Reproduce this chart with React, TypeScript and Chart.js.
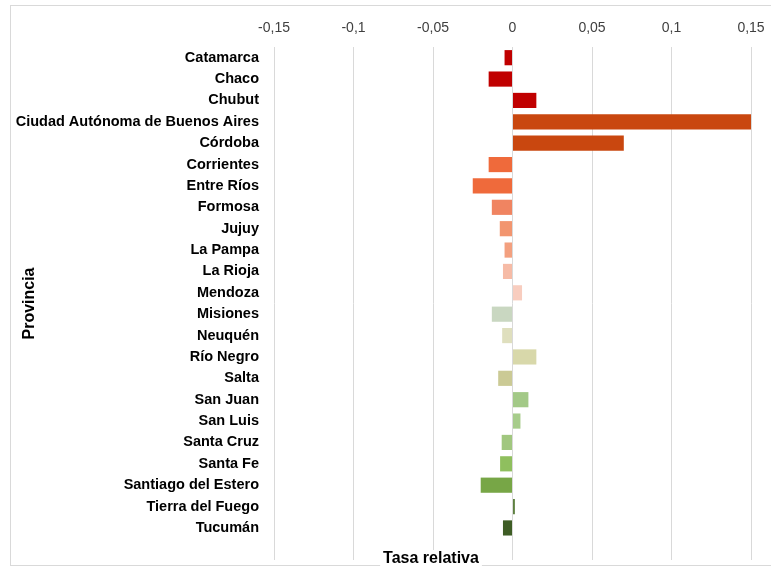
import React, { useEffect, useRef } from "react";
import { Chart, registerables } from "chart.js";

Chart.register(...registerables);

const provincias: string[] = [
  "Catamarca",
  "Chaco",
  "Chubut",
  "Ciudad Autónoma de Buenos Aires",
  "Córdoba",
  "Corrientes",
  "Entre Ríos",
  "Formosa",
  "Jujuy",
  "La Pampa",
  "La Rioja",
  "Mendoza",
  "Misiones",
  "Neuquén",
  "Río Negro",
  "Salta",
  "San Juan",
  "San Luis",
  "Santa Cruz",
  "Santa Fe",
  "Santiago del Estero",
  "Tierra del Fuego",
  "Tucumán",
  "",
];

const tasaRelativa: (number | null)[] = [
  -0.005, -0.015, 0.015, 0.15, 0.07, -0.015, -0.025, -0.013, -0.008, -0.005,
  -0.006, 0.006, -0.013, -0.0065, 0.015, -0.009, 0.01, 0.005, -0.0068,
  -0.0078, -0.02, 0.0015, -0.006, null,
];

const barColors: string[] = [
  "#C00000",
  "#C00000",
  "#C00000",
  "#C9470F",
  "#C9470F",
  "#EF6A3B",
  "#EF6A3B",
  "#F08461",
  "#F2956F",
  "#F3A07F",
  "#F6BBA6",
  "#F8CDBF",
  "#C9D7C1",
  "#DFDFBE",
  "#D8D8AA",
  "#CBCA95",
  "#A3C987",
  "#A7CC8B",
  "#A1C77F",
  "#8FBF5E",
  "#77A646",
  "#5E8040",
  "#3E5D25",
  "#FFFFFF",
];

const xTicks: number[] = [-0.15, -0.1, -0.05, 0, 0.05, 0.1, 0.15];

const FONT = "'Liberation Sans', Arial, sans-serif";

const framePlugin = {
  id: "frame",
  beforeDraw(chart: any) {
    const ctx = chart.ctx;
    ctx.save();
    ctx.fillStyle = "#FFFFFF";
    ctx.fillRect(0, 0, chart.width, chart.height);
    ctx.strokeStyle = "#D9D9D9";
    ctx.lineWidth = 1;
    ctx.strokeRect(10.5, 5.5, 820, 560);
    ctx.restore();
  },
  afterDraw(chart: any) {
    const ctx = chart.ctx;
    ctx.save();
    ctx.font = `bold 16px ${FONT}`;
    const text = "Tasa relativa";
    const w = ctx.measureText(text).width;
    const cx = 431;
    const cy = 559;
    ctx.fillStyle = "#FFFFFF";
    ctx.fillRect(cx - w / 2 - 3, cy - 9, w + 6, 18);
    ctx.fillStyle = "#000000";
    ctx.textAlign = "center";
    ctx.textBaseline = "middle";
    ctx.fillText(text, cx, cy);
    ctx.restore();
  },
};

export default function App() {
  const canvasRef = useRef<HTMLCanvasElement | null>(null);

  useEffect(() => {
    if (!canvasRef.current) return;
    const chart = new Chart(canvasRef.current, {
      type: "bar",
      data: {
        labels: provincias,
        datasets: [
          {
            data: tasaRelativa as any,
            backgroundColor: barColors,
            borderWidth: 0,
            categoryPercentage: 1,
            barPercentage: 0.71,
          },
        ],
      },
      plugins: [framePlugin],
      options: {
        indexAxis: "y",
        responsive: false,
        animation: false,
        layout: { padding: { left: 0, right: 20, top: 0, bottom: 10 } },
        plugins: {
          legend: { display: false },
          tooltip: { enabled: false },
        },
        scales: {
          x: {
            type: "linear",
            position: "top",
            min: -0.15,
            max: 0.15,
            afterBuildTicks: (scale: any) => {
              scale.ticks = xTicks.map((v) => ({ value: v }));
            },
            afterFit: (scale: any) => {
              scale.height = 47;
              scale.paddingLeft = 0;
              scale.paddingRight = 0;
              scale.paddingTop = 0;
              scale.paddingBottom = 0;
            },
            grid: {
              color: "#D9D9D9",
              lineWidth: 1,
              drawTicks: false,
            },
            border: { display: false },
            ticks: {
              padding: 10,
              color: "#404040",
              font: { family: FONT, size: 14 },
              callback: (v: any) =>
                Number(Number(v).toFixed(2)).toString().replace(".", ","),
            },
          },
          y: {
            type: "category",
            afterFit: (scale: any) => {
              scale.width = 274;
              scale.paddingLeft = 0;
              scale.paddingRight = 0;
              scale.paddingTop = 0;
              scale.paddingBottom = 0;
            },
            grid: { display: false, drawTicks: false },
            border: { display: false },
            ticks: {
              padding: 15,
              color: "#000000",
              autoSkip: false,
              font: { family: FONT, size: 14.5, weight: "bold" },
            },
            title: {
              display: true,
              text: "Provincia",
              color: "#000000",
              font: { family: FONT, size: 16, weight: "bold" },
              padding: { top: 20, bottom: 0 },
            },
          },
        },
      },
    });
    return () => chart.destroy();
  }, []);

  return (
    <div style={{ position: "absolute", left: 0, top: 0, width: 771, height: 570 }}>
      <canvas ref={canvasRef} width={771} height={570} />
    </div>
  );
}
